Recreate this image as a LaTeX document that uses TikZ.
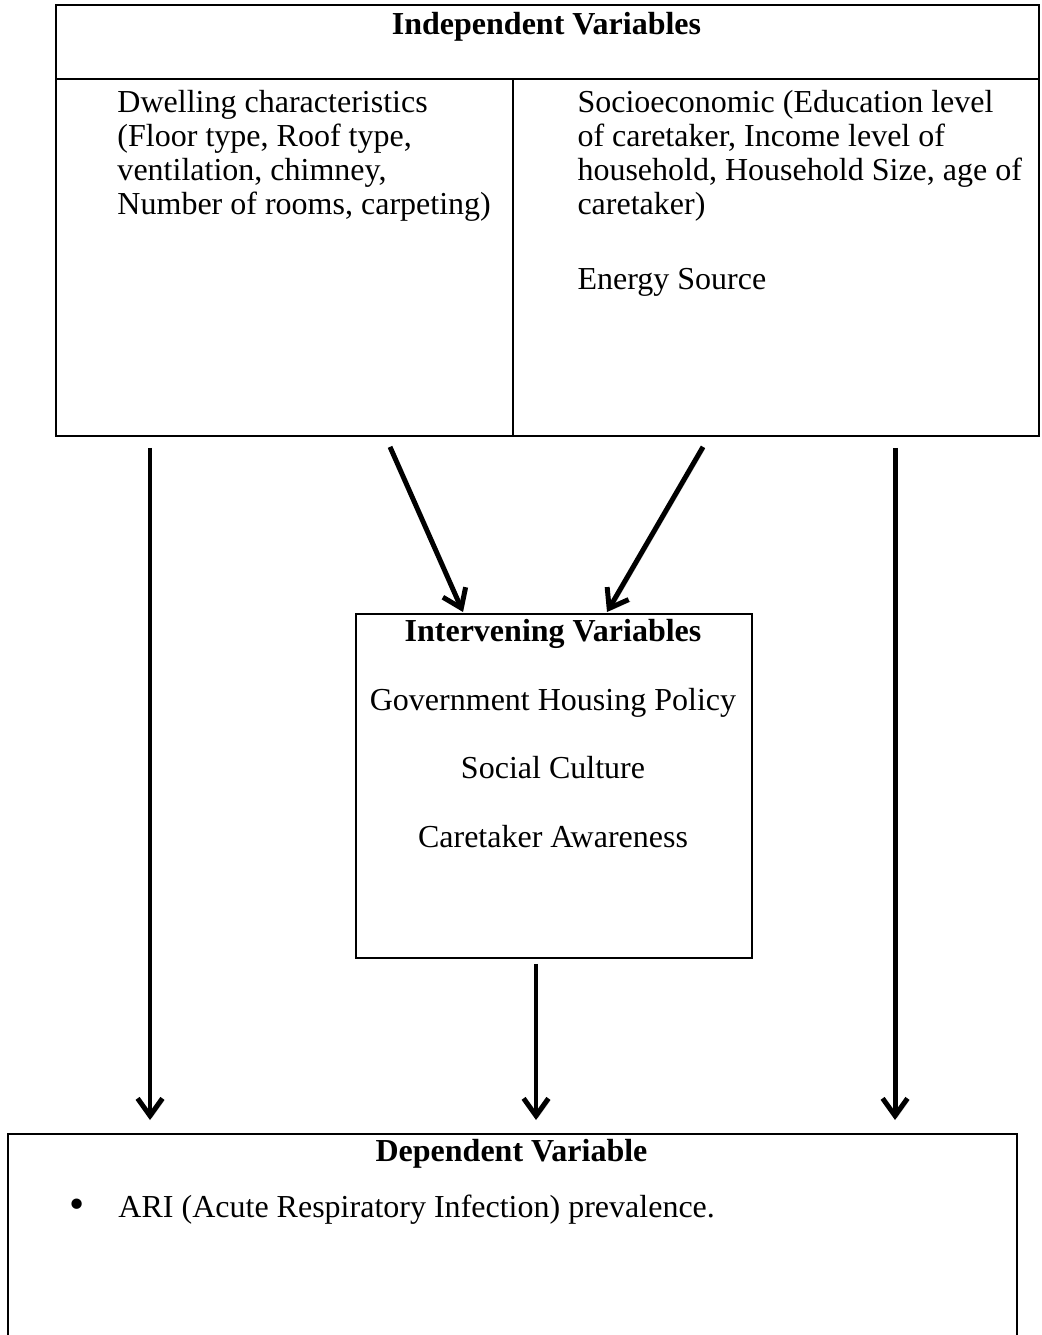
\documentclass[tikz,border=0pt]{standalone}
\usepackage{fontspec}
\setmainfont{Liberation Serif}
\usetikzlibrary{positioning,arrows.meta,calc}

\begin{document}
\begin{tikzpicture}[x=0.403pt,y=-0.403pt,
    font=\fontsize{12.9}{13.82}\selectfont,
    box/.style={draw,line width=0.75pt,inner sep=0pt,anchor=north west},
    txt/.style={inner sep=0pt,align=left,anchor=base west},
    ctr/.style={inner sep=0pt,anchor=base},
    arr/.style={-{Straight Barb[length=7pt,width=10pt]},line width=2pt,
      preaction={draw=black!25,transform canvas={shift={(0.7pt,-0.7pt)}}}}]
  \useasboundingbox (0,0) rectangle (1041,1335);
  % boxes
  \node[box,minimum width=396.1pt,minimum height=173.7pt] (indep) at (55,4) {};
  \node[box,minimum width=159.6pt,minimum height=138.6pt] (interv) at (355,613) {};
  \node[box,minimum width=406.6pt,minimum height=85.4pt] (dep) at (7,1133) {};
  % rules of the top table
  \draw[line width=0.75pt] ($(indep.north west)+(0,75)$) -- ($(indep.north east)+(0,75)$);
  \draw[line width=0.75pt] ($(indep.north west)+(458,75)$) -- ($(indep.south west)+(458,0)$);

  \node[ctr] (ihead) at (546.5,35) {\textbf{Independent Variables}};
  % base of a multi-line node is its last line
  \node[txt] (dwell) at (117,215) {Dwelling characteristics\\(Floor type, Roof type,\\ventilation, chimney,\\Number of rooms, carpeting)};
  \node[txt] (socio) at (577,215) {Socioeconomic (Education level\\of caretaker, Income level of\\household, Household Size, age of\\caretaker)};
  \node[txt] (energy) at (577,290) {Energy Source};

  \node[ctr] (ivhead) at (553,641) {\textbf{Intervening Variables}};
  \node[ctr] (policy) at (553,710) {Government Housing Policy};
  \node[ctr] (culture) at (553,778) {Social Culture};
  \node[ctr] (aware) at (553,847) {Caretaker Awareness};

  \node[ctr] (dhead) at (511.5,1161) {\textbf{Dependent Variable}};
  \node[ctr] (dot) at (77,1218) {\scalebox{1.35}{\textbullet}};
  \node[txt] (ari) at (118,1217) {ARI (Acute Respiratory Infection) prevalence.};

  % arrows
  \draw[arr] ($(indep.south west)+(95,11)$) -- ($(dep.north west)+(143,-13)$);
  \draw[arr] ($(indep.south west)+(335,10)$) -- ($(interv.north west)+(108,-1)$);
  \draw[arr] ($(indep.south west)+(648,10)$) -- ($(interv.north west)+(252,-1)$);
  \draw[arr] ($(indep.south west)+(840,11)$) -- ($(dep.north west)+(888,-13)$);
  \draw[arr] ($(interv.south west)+(181,5)$) -- ($(dep.north west)+(529,-13)$);
\end{tikzpicture}
\end{document}
